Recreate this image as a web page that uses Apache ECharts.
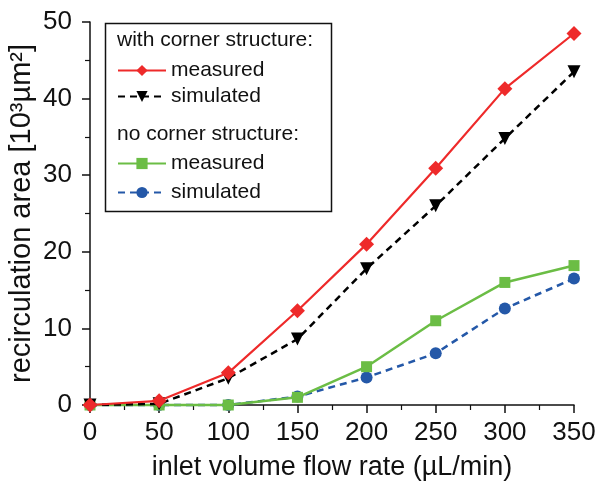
<!DOCTYPE html>
<html><head><meta charset="utf-8">
<script src="https://cdn.jsdelivr.net/npm/echarts@6/dist/echarts.min.js"></script>
<style>html,body{margin:0;padding:0;background:#fff}#c{width:600px;height:482px}</style>
</head><body><div id="c"></div>
<script>
const flowRates = [0, 50, 100, 150, 200, 250, 300, 350];
const withMeasured = [0, 0.55, 4.2, 12.3, 21.0, 30.9, 41.3, 48.5];
const withSimulated = [0, 0.15, 3.5, 8.6, 17.8, 26.0, 34.8, 43.5];
const noMeasured = [0, 0, 0, 1.0, 5.0, 11.0, 16.0, 18.2];
const noSimulated = [0, 0, 0, 1.1, 3.6, 6.75, 12.6, 16.5];
const xTicks = [0, 50, 100, 150, 200, 250, 300, 350];
const yTicks = [0, 10, 20, 30, 40, 50];
const legendHeaders = ['with corner structure:', 'no corner structure:'];

const FONT = 'Liberation Sans, Arial, sans-serif';
const pairs = a => flowRates.map((x, i) => [x, a[i]]);
const chart = echarts.init(document.getElementById('c'));
const labelMap = {wm: 'measured', ws: 'simulated', nm: 'measured', ns: 'simulated'};

chart.setOption({
  animation: false,
  textStyle: {fontFamily: FONT},
  grid: {left: 90, top: 22, right: 26, bottom: 77, containLabel: false, outerBoundsMode: 'none'},
  xAxis: {
    type: 'value', min: xTicks[0], max: xTicks[xTicks.length - 1], interval: 50,
    name: 'inlet volume flow rate (µL/min)', nameLocation: 'middle', nameGap: 49,
    nameTextStyle: {fontSize: 27, color: '#111', fontFamily: FONT},
    axisLine: {onZero: false, lineStyle: {color: '#111', width: 1.5}},
    axisTick: {show: true, length: 8, lineStyle: {color: '#111', width: 1.5}},
    minorTick: {show: true, splitNumber: 2, length: 5, lineStyle: {color: '#111', width: 1.2}},
    axisLabel: {fontSize: 26, color: '#111', margin: 15, fontFamily: FONT},
    splitLine: {show: false}
  },
  yAxis: {
    type: 'value', min: yTicks[0], max: yTicks[yTicks.length - 1], interval: 10,
    name: 'recirculation area [10³µm²]', nameLocation: 'middle', nameGap: 54, nameRotate: 90,
    nameMoveOverlap: false,
    nameTextStyle: {fontSize: 29, color: '#111', fontFamily: FONT},
    axisLine: {show: true, onZero: false, lineStyle: {color: '#111', width: 1.5}},
    axisTick: {show: true, length: 8, lineStyle: {color: '#111', width: 1.5}},
    minorTick: {show: true, splitNumber: 2, length: 5, lineStyle: {color: '#111', width: 1.2}},
    axisLabel: {fontSize: 26, color: '#111', margin: 18, fontFamily: FONT},
    splitLine: {show: false}
  },
  legend: [
    {
      data: ['wm', 'ws'], orient: 'vertical', left: 112, top: 55, itemGap: 5,
      itemWidth: 48, itemHeight: 14, formatter: n => labelMap[n],
      textStyle: {fontSize: 21, color: '#111', fontFamily: FONT}, selectedMode: false
    },
    {
      data: ['nm', 'ns'], orient: 'vertical', left: 112, top: 148, itemGap: 8,
      itemWidth: 48, itemHeight: 14, formatter: n => labelMap[n],
      textStyle: {fontSize: 21, color: '#111', fontFamily: FONT}, selectedMode: false
    }
  ],
  graphic: [
    {type: 'rect', left: 103, top: 21, shape: {width: 226, height: 188},
     style: {fill: 'none', stroke: '#111', lineWidth: 1.5}, z: 10},
    {type: 'text', left: 117, top: 30, style: {text: legendHeaders[0], font: '21px ' + FONT, fill: '#111'}, z: 10},
    {type: 'text', left: 117, top: 124, style: {text: legendHeaders[1], font: '21px ' + FONT, fill: '#111'}, z: 10}
  ],
  series: [
    {name: 'ns', type: 'line', data: pairs(noSimulated), clip: false,
     symbol: 'circle', symbolSize: 12, z: 3,
     lineStyle: {color: '#2458a8', width: 2.5, type: [7, 5]}, itemStyle: {color: '#2458a8'}},
    {name: 'nm', type: 'line', data: pairs(noMeasured), clip: false,
     symbol: 'rect', symbolSize: 11, z: 4,
     lineStyle: {color: '#6bbd45', width: 2.5}, itemStyle: {color: '#6bbd45'}},
    {name: 'ws', type: 'line', data: pairs(withSimulated), clip: false,
     symbol: 'triangle', symbolRotate: 180, symbolSize: 13, z: 5,
     lineStyle: {color: '#000', width: 2.5, type: [7, 5]}, itemStyle: {color: '#000'}},
    {name: 'wm', type: 'line', data: pairs(withMeasured), clip: false,
     symbol: 'diamond', symbolSize: 15, z: 6,
     lineStyle: {color: '#ee2a2a', width: 2.2}, itemStyle: {color: '#ee2a2a'}}
  ]
});
</script></body></html>
